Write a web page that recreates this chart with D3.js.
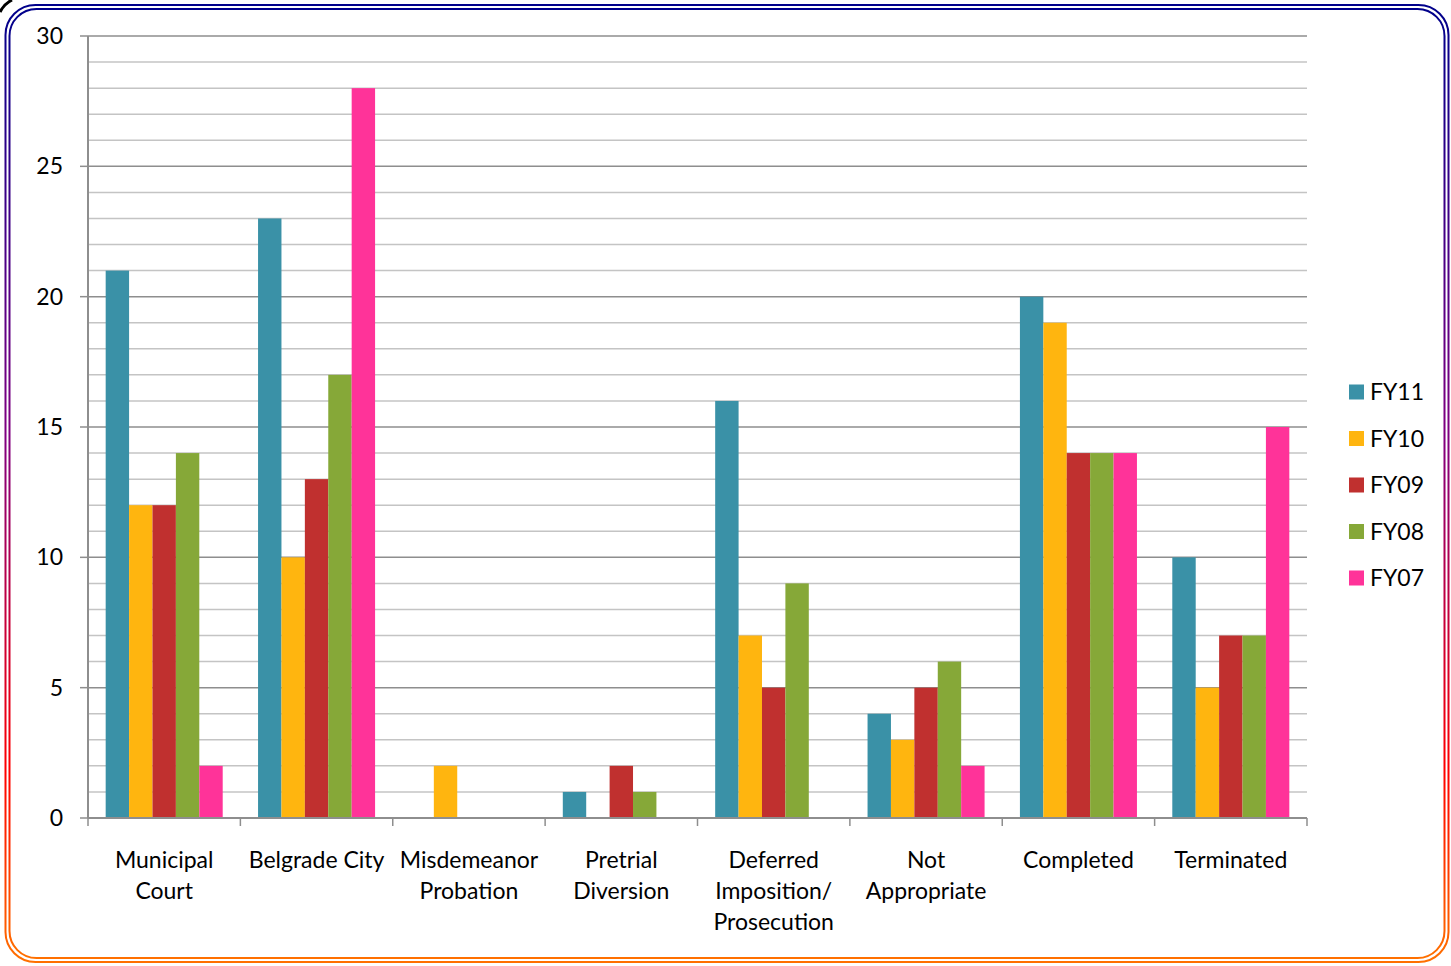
<!DOCTYPE html>
<html>
<head>
<meta charset="utf-8">
<script src="https://cdn.jsdelivr.net/npm/d3@7"></script>
<style>
  body { margin: 0; background: #fff; }
  svg text { font-family: Lato, "Open Sans", sans-serif; fill: #000; }
</style>
</head>
<body>
<svg id="chart" width="1451" height="966"></svg>
<script>
// chart data
var categories = [
    ["Municipal", "Court"],
    ["Belgrade City"],
    ["Misdemeanor", "Probation"],
    ["Pretrial", "Diversion"],
    ["Deferred", "Imposition/", "Prosecution"],
    ["Not", "Appropriate"],
    ["Completed"],
    ["Terminated"]
]
var seriesNames = ["FY11", "FY10", "FY09", "FY08", "FY07"]
var fy11 = [21, 23, 0, 1, 16, 4, 20, 10]
var fy10 = [12, 10, 2, 0, 7, 3, 19, 5]
var fy09 = [12, 13, 0, 2, 5, 5, 14, 7]
var fy08 = [14, 17, 0, 1, 9, 6, 14, 7]
var fy07 = [2, 28, 0, 0, 0, 2, 14, 15]
var yTicks = [0, 5, 10, 15, 20, 25, 30]

var colors = ["#3a91a7", "#ffb50f", "#c0302f", "#86a838", "#ff3399"]
var series = [fy11, fy10, fy09, fy08, fy07]

var svg = d3.select("#chart")

/* frame: double rounded border, blue at the top fading to orange */
var defs = svg.append("defs")
var grad = defs.append("linearGradient")
    .attr("id", "frameGrad")
    .attr("x1", 0).attr("y1", 0).attr("x2", 0).attr("y2", 1)
grad.append("stop").attr("offset", "0%").attr("stop-color", "#00008b")
grad.append("stop").attr("offset", "45%").attr("stop-color", "#800080")
grad.append("stop").attr("offset", "80%").attr("stop-color", "#ff0000")
grad.append("stop").attr("offset", "100%").attr("stop-color", "#ff7000")

svg.append("rect")
    .attr("x", 5.5).attr("y", 5).attr("width", 1443).attr("height", 957)
    .attr("rx", 30).attr("ry", 30)
    .attr("fill", "none").attr("stroke", "url(#frameGrad)").attr("stroke-width", 2)
svg.append("rect")
    .attr("x", 9.5).attr("y", 9).attr("width", 1435).attr("height", 949)
    .attr("rx", 27).attr("ry", 27)
    .attr("fill", "none").attr("stroke", "url(#frameGrad)").attr("stroke-width", 2)

// little black stroke in the top-left corner
svg.append("path")
    .attr("d", "M0,12 Q4,4 12,0")
    .attr("fill", "none").attr("stroke", "#000").attr("stroke-width", 3)

var plotL = 88, plotR = 1307, plotT = 36, plotB = 818

var x = d3.scaleBand()
    .domain(d3.range(categories.length))
    .range([plotL, plotR])
    .paddingInner(0.232)
    .paddingOuter(0.116)

var xs = d3.scaleBand()
    .domain(d3.range(seriesNames.length))
    .range([0, x.bandwidth()])

var y = d3.scaleLinear().domain([0, 30]).range([plotB, plotT])

var g = svg.append("g")

/* gridlines, one per unit; every fifth is darker */
g.selectAll(".grid")
    .data(d3.range(1, 31))
    .enter().append("line")
    .attr("x1", plotL).attr("x2", plotR)
    .attr("y1", d => y(d)).attr("y2", d => y(d))
    .attr("stroke", d => d % 5 == 0 ? "#8e8e8e" : "#c4c4c4")
    .attr("stroke-width", 1.5)

/* bars */
series.forEach(function(vals, si) {
    g.selectAll(".bar" + si)
        .data(vals)
        .enter().append("rect")
        .attr("x", (d, i) => x(i) + xs(si))
        .attr("y", d => y(d))
        .attr("width", xs.bandwidth())
        .attr("height", d => plotB - y(d))
        .attr("fill", colors[si])
})

/* y axis */
g.append("line")
    .attr("x1", plotL).attr("x2", plotL).attr("y1", plotT).attr("y2", plotB)
    .attr("stroke", "#8e8e8e").attr("stroke-width", 2)
g.selectAll(".ytick")
    .data(yTicks)
    .enter().append("line")
    .attr("x1", plotL - 8).attr("x2", plotL)
    .attr("y1", d => y(d)).attr("y2", d => y(d))
    .attr("stroke", "#8e8e8e").attr("stroke-width", 1.5)
g.selectAll(".ylab")
    .data(yTicks)
    .enter().append("text")
    .attr("x", 63).attr("y", d => y(d))
    .attr("dy", "0.35em")
    .attr("text-anchor", "end")
    .style("font-size", "23px")
    .text(d => d)

/* x axis */
g.append("line")
    .attr("x1", plotL).attr("x2", plotR).attr("y1", plotB).attr("y2", plotB)
    .attr("stroke", "#8e8e8e").attr("stroke-width", 2)
g.selectAll(".xtick")
    .data(d3.range(categories.length + 1))
    .enter().append("line")
    .attr("x1", i => plotL + i * (plotR - plotL) / categories.length)
    .attr("x2", i => plotL + i * (plotR - plotL) / categories.length)
    .attr("y1", plotB).attr("y2", plotB + 8)
    .attr("stroke", "#8e8e8e").attr("stroke-width", 1.5)

var xl = g.selectAll(".xlab")
    .data(categories)
    .enter().append("text")
    .attr("text-anchor", "middle")
    .style("font-size", "23px")
xl.each(function(lines, i) {
    var t = d3.select(this)
    lines.forEach(function(s, k) {
        t.append("tspan")
            .attr("x", x(i) + x.bandwidth() / 2)
            .attr("y", 868 + k * 31)
            .text(s)
    })
})

/* legend */
var lg = svg.append("g")
seriesNames.forEach(function(name, i) {
    var ly = 392 + i * 46.5
    lg.append("rect")
        .attr("x", 1349).attr("y", ly - 7.5)
        .attr("width", 15).attr("height", 15)
        .attr("fill", colors[i])
    lg.append("text")
        .attr("x", 1370).attr("y", ly)
        .attr("dy", "0.35em")
        .style("font-size", "23px")
        .text(name)
})
</script>
</body>
</html>
